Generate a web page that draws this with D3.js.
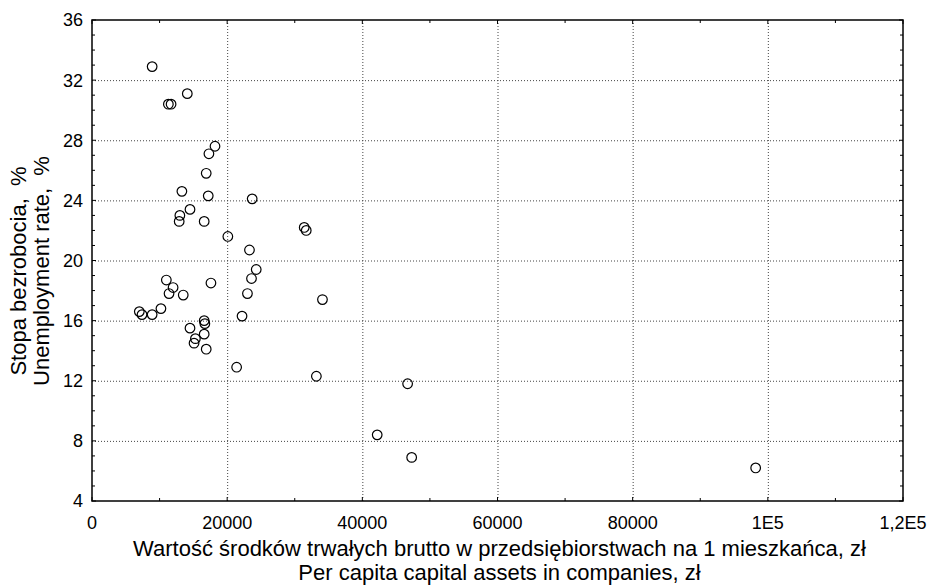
<!DOCTYPE html>
<html>
<head>
<meta charset="utf-8">
<script src="https://cdn.jsdelivr.net/npm/d3@7"></script>
<style>
  body { margin: 0; background: #fff; }
  text { font-family: "Liberation Sans", Arial, sans-serif; fill: #000; }
</style>
</head>
<body>
<div id="chart"></div>
<script>

var width = 929,
    height = 586;

// capital assets per capita (zł)
var assets = [8900, 14100, 11300, 11700, 18200, 17300, 16900, 13300, 17200, 23700,
              14500, 13000, 12900, 16600, 20100, 31400, 31700, 23300, 24300, 23600,
              17600, 11000, 12000, 11400, 13500, 10200, 7000, 7400, 8900, 23000,
              34100, 22200, 16600, 16700, 14500, 16600, 15300, 15100, 16900, 21400,
              33200, 46700, 42200, 47300, 98200];

// unemployment rate (%)
var unemployment = [32.9, 31.1, 30.4, 30.4, 27.6, 27.1, 25.8, 24.6, 24.3, 24.1,
                    23.4, 23.0, 22.6, 22.6, 21.6, 22.2, 22.0, 20.7, 19.4, 18.8,
                    18.5, 18.7, 18.2, 17.8, 17.7, 16.8, 16.6, 16.4, 16.4, 17.8,
                    17.4, 16.3, 16.0, 15.8, 15.5, 15.1, 14.8, 14.5, 14.1, 12.9,
                    12.3, 11.8, 8.4, 6.9, 6.2];

var xTicks = [0, 20000, 40000, 60000, 80000, 100000, 120000],
    xTickLabels = ["0", "20000", "40000", "60000", "80000", "1E5", "1,2E5"];
var yTicks = [4, 8, 12, 16, 20, 24, 28, 32, 36];

var margin = {top: 20, right: 26, bottom: 85, left: 92};

var svg = d3.select("#chart").append("svg")
    .attr("width", width)
    .attr("height", height);

var x = d3.scaleLinear()
    .domain([0, 120000])
    .range([margin.left, width - margin.right]);

var y = d3.scaleLinear()
    .domain([4, 36])
    .range([height - margin.bottom, margin.top]);

var x0 = x.range()[0], x1 = x.range()[1],
    y0 = y.range()[0], y1 = y.range()[1];

// dotted grid at inner major ticks
svg.selectAll(".vgrid")
    .data(xTicks.slice(1, -1))
  .enter().append("line")
    .attr("x1", function(d) { return x(d) + 0.5; })
    .attr("x2", function(d) { return x(d) + 0.5; })
    .attr("y1", y1).attr("y2", y0)
    .attr("stroke", "#444").attr("stroke-width", 1)
    .attr("stroke-dasharray", "1,2");

svg.selectAll(".hgrid")
    .data(yTicks.slice(1, -1))
  .enter().append("line")
    .attr("x1", x0).attr("x2", x1)
    .attr("y1", function(d) { return y(d) + 0.5; })
    .attr("y2", function(d) { return y(d) + 0.5; })
    .attr("stroke", "#444").attr("stroke-width", 1)
    .attr("stroke-dasharray", "1,2");

// inner ticks on all four sides
var xMinor = d3.range(0, 120001, 10000),
    yMinor = d3.range(4, 36.01, 1);

function tickLen(isMajor) { return isMajor ? 4 : 3; }

xMinor.forEach(function(v) {
  var major = v % 20000 === 0;
  svg.append("line").attr("x1", x(v)).attr("x2", x(v))
      .attr("y1", y0).attr("y2", y0 - tickLen(major)).attr("stroke", "#000");
  svg.append("line").attr("x1", x(v)).attr("x2", x(v))
      .attr("y1", y1).attr("y2", y1 + tickLen(major)).attr("stroke", "#000");
});

yMinor.forEach(function(v) {
  var major = v % 4 === 0;
  svg.append("line").attr("y1", y(v)).attr("y2", y(v))
      .attr("x1", x0).attr("x2", x0 + tickLen(major)).attr("stroke", "#000");
  svg.append("line").attr("y1", y(v)).attr("y2", y(v))
      .attr("x1", x1).attr("x2", x1 - tickLen(major)).attr("stroke", "#000");
});

// frame
svg.append("rect")
    .attr("x", x0).attr("y", y1)
    .attr("width", x1 - x0).attr("height", y0 - y1)
    .attr("fill", "none").attr("stroke", "#000").attr("stroke-width", 1.5);

// tick labels
svg.selectAll(".xlabel")
    .data(xTicks)
  .enter().append("text")
    .attr("x", function(d) { return x(d); })
    .attr("y", y0 + 28)
    .attr("text-anchor", "middle")
    .style("font-size", "18px")
    .text(function(d, i) { return xTickLabels[i]; });

svg.selectAll(".ylabel")
    .data(yTicks)
  .enter().append("text")
    .attr("x", x0 - 9)
    .attr("y", function(d) { return y(d); })
    .attr("dy", "0.36em")
    .attr("text-anchor", "end")
    .style("font-size", "18px")
    .text(function(d) { return d; });

// axis titles
var xt = svg.append("text")
    .attr("text-anchor", "middle")
    .style("font-size", "22px");
xt.append("tspan").attr("x", (x0 + x1) / 2 + 2).attr("y", 556)
    .text("Wartość środków trwałych brutto w przedsiębiorstwach na 1 mieszkańca, zł");
xt.append("tspan").attr("x", (x0 + x1) / 2 + 2).attr("y", 580)
    .text("Per capita capital assets in companies, zł");

var yt = svg.append("text")
    .attr("transform", "translate(0,271) rotate(-90)")
    .attr("text-anchor", "middle")
    .style("font-size", "22px")
    .style("white-space", "pre");
yt.append("tspan").attr("x", 0).attr("y", 26).text("Stopa bezrobocia,  %");
yt.append("tspan").attr("x", 0).attr("y", 49).text("Unemployment rate,  %");

// points
svg.selectAll(".point")
    .data(assets)
  .enter().append("circle")
    .attr("class", "point")
    .attr("cx", function(d) { return x(d); })
    .attr("cy", function(d, i) { return y(unemployment[i]); })
    .attr("r", 4.8)
    .attr("fill", "none")
    .attr("stroke", "#000")
    .attr("stroke-width", 1.2);

</script>
</body>
</html>
